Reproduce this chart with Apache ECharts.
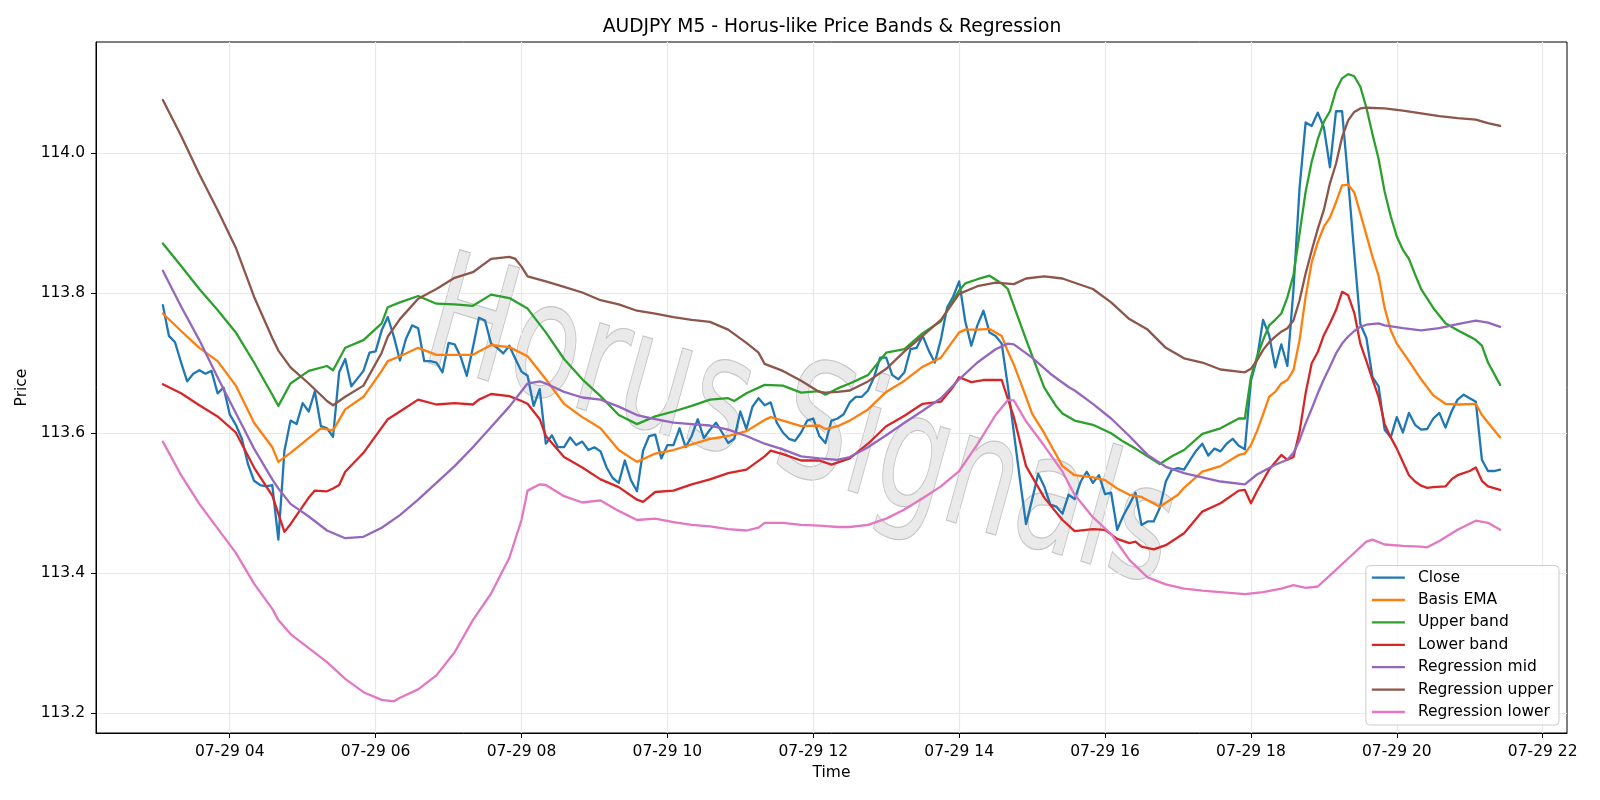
<!DOCTYPE html>
<html>
<head>
<meta charset="utf-8">
<title>AUDJPY M5 - Horus-like Price Bands & Regression</title>
<script src="https://cdn.jsdelivr.net/npm/echarts@6/dist/echarts.min.js"></script>
<style>
  html, body { margin: 0; padding: 0; background: #fff; }
  #chart { width: 1600px; height: 800px; }
</style>
</head>
<body>
<div id="chart"></div>
<script>
// M5 closes from 07-29 03:05 to 21:25, one row per hour
const closeStart = '03:05';
const close = [
  113.783, 113.739, 113.730, 113.701, 113.674, 113.685, 113.690, 113.685, 113.689, 113.657, 113.665, 113.627,
  113.612, 113.592, 113.556, 113.532, 113.526, 113.524, 113.526, 113.448, 113.575, 113.618, 113.613, 113.643,
  113.631, 113.660, 113.610, 113.607, 113.595, 113.687, 113.706, 113.667, 113.678, 113.689, 113.715, 113.717,
  113.747, 113.766, 113.738, 113.704, 113.735, 113.754, 113.750, 113.703, 113.703, 113.701, 113.687, 113.729,
  113.727, 113.709, 113.682, 113.722, 113.765, 113.761, 113.728, 113.722, 113.714, 113.725, 113.706, 113.688,
  113.682, 113.639, 113.663, 113.585, 113.597, 113.580, 113.580, 113.594, 113.583, 113.588, 113.576, 113.580,
  113.574, 113.551, 113.536, 113.529, 113.561, 113.533, 113.517, 113.575, 113.596, 113.598, 113.564, 113.583,
  113.583, 113.607, 113.580, 113.596, 113.620, 113.593, 113.605, 113.615, 113.601, 113.586, 113.592, 113.631,
  113.606, 113.638, 113.650, 113.640, 113.644, 113.615, 113.601, 113.592, 113.589, 113.601, 113.618, 113.621,
  113.596, 113.586, 113.618, 113.621, 113.627, 113.644, 113.652, 113.652, 113.661, 113.680, 113.708, 113.708,
  113.683, 113.677, 113.687, 113.720, 113.722, 113.739, 113.718, 113.701, 113.734, 113.779, 113.795, 113.817,
  113.760, 113.725, 113.754, 113.775, 113.744, 113.739, 113.728, 113.668, 113.601, 113.534, 113.470, 113.505,
  113.542, 113.524, 113.498, 113.495, 113.485, 113.512, 113.506, 113.531, 113.545, 113.529, 113.540, 113.513,
  113.515, 113.462, 113.482, 113.498, 113.515, 113.469, 113.474, 113.474, 113.493, 113.531, 113.548, 113.550,
  113.548, 113.562, 113.575, 113.585, 113.568, 113.578, 113.574, 113.585, 113.592, 113.582, 113.577, 113.675,
  113.706, 113.762, 113.740, 113.694, 113.727, 113.696, 113.805, 113.950, 114.044, 114.039, 114.058, 114.037,
  113.980, 114.060, 114.060, 113.961, 113.857, 113.756, 113.736, 113.680, 113.667, 113.605, 113.594, 113.623,
  113.601, 113.629, 113.612, 113.605, 113.606, 113.621, 113.629, 113.608, 113.631, 113.648, 113.655, 113.650,
  113.645, 113.562, 113.546, 113.546, 113.548
];

// smooth lines at ~15 min steps (plus turning points): [time, price]
const basisEma = [
  ['03:05', 113.771], ['03:20', 113.746], ['03:35', 113.722], ['03:50', 113.703], ['04:05', 113.668], ['04:20', 113.615],
  ['04:35', 113.580], ['04:40', 113.559], ['04:50', 113.572], ['05:05', 113.593], ['05:15', 113.607], ['05:25', 113.604],
  ['05:35', 113.634], ['05:50', 113.652], ['06:05', 113.689], ['06:10', 113.703], ['06:20', 113.710], ['06:35', 113.722],
  ['06:50', 113.712], ['07:05', 113.712], ['07:20', 113.712], ['07:35', 113.726], ['07:50', 113.723], ['08:05', 113.710],
  ['08:20', 113.677], ['08:35', 113.642], ['08:50', 113.623], ['09:05', 113.607], ['09:20', 113.576], ['09:35', 113.559],
  ['09:50', 113.571], ['10:05', 113.576], ['10:20', 113.584], ['10:35', 113.592], ['10:50', 113.596], ['11:05', 113.603],
  ['11:20', 113.619], ['11:25', 113.623], ['11:35', 113.618], ['11:50', 113.610], ['12:05', 113.611], ['12:10', 113.606],
  ['12:20', 113.610], ['12:30', 113.618], ['12:45', 113.634], ['13:00', 113.659], ['13:15', 113.675], ['13:30', 113.695],
  ['13:45', 113.708], ['14:00', 113.744], ['14:05', 113.748], ['14:15', 113.748], ['14:25', 113.749], ['14:35', 113.739],
  ['14:40', 113.717], ['14:45', 113.698], ['14:55', 113.652], ['15:00', 113.628], ['15:10', 113.600], ['15:25', 113.553],
  ['15:35', 113.540], ['15:50', 113.537], ['16:00', 113.533], ['16:10', 113.521], ['16:20', 113.512], ['16:30', 113.509],
  ['16:45', 113.495], ['17:00', 113.512], ['17:05', 113.522], ['17:20', 113.545], ['17:35', 113.553], ['17:50', 113.569],
  ['17:55', 113.571], ['18:00', 113.583], ['18:05', 113.603], ['18:10', 113.627], ['18:15', 113.652], ['18:20', 113.659],
  ['18:25', 113.671], ['18:30', 113.676], ['18:35', 113.690], ['18:40', 113.733], ['18:45', 113.795], ['18:50', 113.844],
  ['18:55', 113.873], ['19:00', 113.895], ['19:05', 113.908], ['19:10', 113.930], ['19:15', 113.954], ['19:20', 113.955],
  ['19:25', 113.944], ['19:30', 113.914], ['19:35', 113.883], ['19:40', 113.852], ['19:45', 113.825], ['19:50', 113.779],
  ['19:55', 113.747], ['20:00', 113.728], ['20:10', 113.703], ['20:20', 113.677], ['20:30', 113.654], ['20:40', 113.642],
  ['20:50', 113.641], ['21:05', 113.642], ['21:10', 113.626], ['21:25', 113.594]
];

const upperBand = [
  ['03:05', 113.871], ['03:20', 113.839], ['03:35', 113.806], ['03:50', 113.776], ['04:05', 113.744], ['04:20', 113.701],
  ['04:35', 113.655], ['04:40', 113.639], ['04:50', 113.671], ['05:05', 113.689], ['05:20', 113.696], ['05:25', 113.690],
  ['05:35', 113.722], ['05:50', 113.733], ['06:05', 113.757], ['06:10', 113.780], ['06:20', 113.787], ['06:35', 113.796],
  ['06:50', 113.785], ['07:05', 113.784], ['07:20', 113.782], ['07:35', 113.798], ['07:50', 113.793], ['08:05', 113.778],
  ['08:20', 113.744], ['08:35', 113.706], ['08:50', 113.677], ['09:05', 113.653], ['09:20', 113.626], ['09:35', 113.613],
  ['09:50', 113.624], ['10:05', 113.631], ['10:20', 113.639], ['10:35', 113.648], ['10:50', 113.650], ['10:55', 113.646],
  ['11:05', 113.657], ['11:20', 113.669], ['11:35', 113.668], ['11:50', 113.658], ['12:05', 113.660], ['12:10', 113.655],
  ['12:20', 113.664], ['12:30', 113.671], ['12:45', 113.683], ['13:00', 113.715], ['13:15', 113.720], ['13:30', 113.743],
  ['13:45', 113.760], ['14:00', 113.804], ['14:05', 113.814], ['14:15', 113.820], ['14:25', 113.825], ['14:35', 113.814],
  ['14:40', 113.806], ['14:45', 113.782], ['14:55', 113.734], ['15:10', 113.665], ['15:20', 113.638], ['15:25', 113.628],
  ['15:35', 113.618], ['15:50', 113.612], ['16:05', 113.600], ['16:15', 113.588], ['16:25', 113.578], ['16:35', 113.567],
  ['16:45', 113.556], ['16:55', 113.567], ['17:05', 113.576], ['17:20', 113.599], ['17:35', 113.607], ['17:50', 113.621],
  ['17:55', 113.621], ['18:00', 113.680], ['18:05', 113.709], ['18:10', 113.733], ['18:15', 113.754], ['18:20', 113.762],
  ['18:25', 113.771], ['18:30', 113.794], ['18:35', 113.826], ['18:40', 113.885], ['18:45', 113.945], ['18:50', 113.988],
  ['18:55', 114.020], ['19:00', 114.045], ['19:05', 114.060], ['19:10', 114.090], ['19:15', 114.107], ['19:20', 114.113],
  ['19:25', 114.110], ['19:30', 114.095], ['19:35', 114.065], ['19:40', 114.027], ['19:45', 113.992], ['19:50', 113.945],
  ['19:55', 113.910], ['20:00', 113.881], ['20:05', 113.862], ['20:10', 113.849], ['20:15', 113.827], ['20:20', 113.806],
  ['20:30', 113.779], ['20:40', 113.757], ['20:50', 113.747], ['21:00', 113.738], ['21:05', 113.733], ['21:10', 113.725],
  ['21:15', 113.701], ['21:25', 113.669]
];

const lowerBand = [
  ['03:05', 113.670], ['03:20', 113.657], ['03:35', 113.640], ['03:50', 113.624], ['04:05', 113.601], ['04:20', 113.551],
  ['04:35', 113.511], ['04:45', 113.459], ['04:50', 113.470], ['05:05', 113.508], ['05:10', 113.518], ['05:20', 113.517],
  ['05:25', 113.521], ['05:30', 113.526], ['05:35', 113.545], ['05:50', 113.572], ['06:05', 113.608], ['06:10', 113.620],
  ['06:20', 113.631], ['06:35', 113.648], ['06:50', 113.641], ['07:05', 113.643], ['07:20', 113.641], ['07:25', 113.648],
  ['07:35', 113.656], ['07:50', 113.653], ['08:00', 113.646], ['08:05', 113.642], ['08:15', 113.620], ['08:20', 113.596],
  ['08:35', 113.566], ['08:50', 113.551], ['09:05', 113.534], ['09:20', 113.523], ['09:35', 113.505], ['09:40', 113.502],
  ['09:50', 113.516], ['10:05', 113.518], ['10:20', 113.527], ['10:35', 113.534], ['10:50', 113.543], ['11:05', 113.548],
  ['11:20', 113.567], ['11:25', 113.575], ['11:35', 113.570], ['11:50', 113.561], ['12:05', 113.561], ['12:15', 113.555],
  ['12:30', 113.564], ['12:45', 113.585], ['13:00', 113.610], ['13:15', 113.625], ['13:30', 113.642], ['13:45', 113.645],
  ['13:55', 113.666], ['14:00', 113.680], ['14:10', 113.673], ['14:20', 113.676], ['14:35', 113.676], ['14:45', 113.623],
  ['14:55', 113.553], ['15:10', 113.508], ['15:25', 113.476], ['15:35', 113.460], ['15:50', 113.463], ['16:00', 113.462],
  ['16:10', 113.449], ['16:20', 113.443], ['16:25', 113.445], ['16:30', 113.438], ['16:40', 113.434], ['16:50', 113.440],
  ['17:05', 113.457], ['17:20', 113.488], ['17:35', 113.500], ['17:50', 113.518], ['17:55', 113.519], ['18:00', 113.500],
  ['18:05', 113.517], ['18:15', 113.548], ['18:25', 113.569], ['18:30', 113.562], ['18:35', 113.566], ['18:40', 113.602],
  ['18:45', 113.657], ['18:50', 113.700], ['18:55', 113.716], ['19:00', 113.740], ['19:05', 113.757], ['19:10', 113.776],
  ['19:15', 113.802], ['19:20', 113.797], ['19:25', 113.772], ['19:30', 113.728], ['19:35', 113.703], ['19:40', 113.677],
  ['19:45', 113.652], ['19:50', 113.613], ['19:55', 113.594], ['20:00', 113.578], ['20:05', 113.559], ['20:10', 113.540],
  ['20:15', 113.531], ['20:20', 113.525], ['20:25', 113.522], ['20:30', 113.523], ['20:40', 113.524], ['20:45', 113.534],
  ['20:50', 113.540], ['21:00', 113.546], ['21:05', 113.551], ['21:10', 113.532], ['21:15', 113.524], ['21:25', 113.519]
];

const regMid = [
  ['03:05', 113.832], ['03:20', 113.781], ['03:35', 113.733], ['03:50', 113.680], ['04:05', 113.629], ['04:20', 113.578],
  ['04:35', 113.534], ['04:40', 113.521], ['04:50', 113.499], ['05:05', 113.481], ['05:20', 113.461], ['05:35', 113.450],
  ['05:50', 113.452], ['06:05', 113.465], ['06:20', 113.483], ['06:35', 113.505], ['06:50', 113.529], ['07:05', 113.553],
  ['07:20', 113.580], ['07:35', 113.609], ['07:50', 113.638], ['08:05', 113.671], ['08:15', 113.674], ['08:20', 113.671],
  ['08:35', 113.659], ['08:50', 113.651], ['09:05', 113.648], ['09:20', 113.638], ['09:35', 113.626], ['09:50', 113.620],
  ['10:05', 113.615], ['10:20', 113.613], ['10:35', 113.611], ['10:50', 113.605], ['11:05', 113.596], ['11:20', 113.585],
  ['11:35', 113.577], ['11:50', 113.567], ['12:05', 113.564], ['12:20', 113.562], ['12:30', 113.566], ['12:45', 113.580],
  ['13:00', 113.597], ['13:15', 113.615], ['13:30', 113.632], ['13:45', 113.650], ['14:00', 113.677], ['14:15', 113.701],
  ['14:30', 113.720], ['14:40', 113.728], ['14:45', 113.727], ['15:00', 113.708], ['15:15', 113.685], ['15:30', 113.666],
  ['15:35', 113.661], ['15:50', 113.642], ['16:05', 113.621], ['16:20', 113.596], ['16:35', 113.569], ['16:50', 113.552],
  ['17:05', 113.543], ['17:20', 113.537], ['17:35', 113.531], ['17:55', 113.527], ['18:05', 113.541], ['18:20', 113.555],
  ['18:30', 113.562], ['18:35', 113.572], ['18:40', 113.590], ['18:45', 113.614], ['18:50', 113.635], ['18:55', 113.657],
  ['19:00', 113.677], ['19:05', 113.695], ['19:10', 113.714], ['19:15', 113.728], ['19:20', 113.738], ['19:25', 113.746],
  ['19:30', 113.752], ['19:35', 113.755], ['19:45', 113.757], ['19:50', 113.754], ['20:05', 113.750], ['20:20', 113.747],
  ['20:35', 113.750], ['20:50', 113.756], ['21:05', 113.761], ['21:15', 113.758], ['21:25', 113.752]
];

const regUpper = [
  ['03:05', 114.076], ['03:20', 114.025], ['03:35', 113.970], ['03:50', 113.919], ['04:05', 113.865], ['04:20', 113.795],
  ['04:35', 113.736], ['04:40', 113.718], ['04:50', 113.694], ['05:05', 113.671], ['05:20', 113.646], ['05:25', 113.640],
  ['05:35', 113.652], ['05:50', 113.668], ['06:05', 113.715], ['06:10', 113.738], ['06:20', 113.763], ['06:35', 113.792],
  ['06:50', 113.806], ['07:05', 113.822], ['07:20', 113.830], ['07:35', 113.849], ['07:50', 113.852], ['07:55', 113.849],
  ['08:00', 113.838], ['08:05', 113.824], ['08:20', 113.817], ['08:35', 113.809], ['08:50', 113.801], ['09:05', 113.790],
  ['09:20', 113.784], ['09:35', 113.775], ['09:50', 113.771], ['10:05', 113.766], ['10:20', 113.762], ['10:35', 113.759],
  ['10:50', 113.748], ['11:05', 113.729], ['11:15', 113.715], ['11:20', 113.699], ['11:35', 113.689], ['11:50', 113.675],
  ['12:05', 113.659], ['12:10', 113.658], ['12:20', 113.659], ['12:30', 113.661], ['12:45', 113.674], ['13:00', 113.692],
  ['13:15', 113.717], ['13:30', 113.739], ['13:45', 113.762], ['14:00', 113.799], ['14:15', 113.810], ['14:30', 113.815],
  ['14:45', 113.813], ['14:55', 113.821], ['15:10', 113.824], ['15:25', 113.821], ['15:35', 113.815], ['15:50', 113.806],
  ['16:05', 113.787], ['16:20', 113.763], ['16:35', 113.748], ['16:50', 113.722], ['17:05', 113.707], ['17:20', 113.701],
  ['17:35', 113.691], ['17:50', 113.688], ['17:55', 113.687], ['18:00', 113.692], ['18:05', 113.704], ['18:10', 113.719],
  ['18:15', 113.730], ['18:20', 113.738], ['18:25', 113.745], ['18:30', 113.750], ['18:35', 113.761], ['18:40', 113.790],
  ['18:45', 113.828], ['18:50', 113.861], ['18:55', 113.892], ['19:00', 113.919], ['19:05', 113.957], ['19:10', 113.985],
  ['19:15', 114.023], ['19:20', 114.047], ['19:25', 114.059], ['19:30', 114.064], ['19:35', 114.065], ['19:50', 114.064],
  ['20:05', 114.061], ['20:20', 114.057], ['20:35', 114.053], ['20:50', 114.050], ['21:05', 114.048], ['21:15', 114.043],
  ['21:25', 114.039]
];

const regLower = [
  ['03:05', 113.588], ['03:20', 113.540], ['03:35', 113.499], ['03:50', 113.464], ['04:05', 113.429], ['04:20', 113.385],
  ['04:35', 113.349], ['04:40', 113.333], ['04:50', 113.313], ['05:05', 113.293], ['05:20', 113.273], ['05:35', 113.249],
  ['05:50', 113.230], ['06:05', 113.219], ['06:15', 113.217], ['06:20', 113.222], ['06:35', 113.234], ['06:50', 113.254],
  ['07:05', 113.287], ['07:20', 113.333], ['07:35', 113.371], ['07:50', 113.422], ['08:00', 113.476], ['08:05', 113.518],
  ['08:15', 113.527], ['08:20', 113.526], ['08:35', 113.510], ['08:50', 113.501], ['09:05', 113.504], ['09:20', 113.489],
  ['09:35', 113.476], ['09:50', 113.478], ['10:05', 113.473], ['10:20', 113.469], ['10:35', 113.467], ['10:50', 113.463],
  ['11:05', 113.461], ['11:15', 113.465], ['11:20', 113.472], ['11:35', 113.472], ['11:50', 113.469], ['12:05', 113.468],
  ['12:20', 113.466], ['12:30', 113.466], ['12:45', 113.469], ['13:00', 113.478], ['13:15', 113.491], ['13:30', 113.507],
  ['13:45', 113.524], ['14:00', 113.546], ['14:15', 113.584], ['14:30', 113.626], ['14:40', 113.647], ['14:45', 113.647],
  ['14:55', 113.617], ['15:10', 113.582], ['15:25', 113.545], ['15:35', 113.512], ['15:50', 113.480], ['16:05', 113.456],
  ['16:20', 113.419], ['16:35', 113.394], ['16:50', 113.384], ['17:05', 113.378], ['17:20', 113.375], ['17:35', 113.373],
  ['17:55', 113.370], ['18:10', 113.373], ['18:25', 113.378], ['18:35', 113.383], ['18:45', 113.379], ['18:55', 113.381],
  ['19:05', 113.397], ['19:20', 113.421], ['19:35', 113.445], ['19:40', 113.448], ['19:50', 113.441], ['20:05', 113.439],
  ['20:20', 113.438], ['20:25', 113.437], ['20:35', 113.446], ['20:50', 113.462], ['21:05', 113.475], ['21:15', 113.472],
  ['21:25', 113.462]
];

const seriesNames = ['Close', 'Basis EMA', 'Upper band', 'Lower band', 'Regression mid', 'Regression upper', 'Regression lower'];
const seriesColors = ['#1f77b4', '#ff7f0e', '#2ca02c', '#d62728', '#9467bd', '#8c564b', '#e377c2'];
const xTicks = [4, 6, 8, 10, 12, 14, 16, 18, 20, 22];
const yTicks = [113.2, 113.4, 113.6, 113.8, 114.0];
const day = '07-29';

const FONT = 'DejaVu Sans';

function toH(t) {
  const p = t.split(':').map(Number);
  return p[0] + p[1] / 60;
}
const closeData = close.map((v, i) => [toH(closeStart) + i * 5 / 60, v]);
const toPairs = arr => arr.map(d => [toH(d[0]), d[1]]);
const lineData = [closeData, toPairs(basisEma), toPairs(upperBand), toPairs(lowerBand),
  toPairs(regMid), toPairs(regUpper), toPairs(regLower)];

const chart = echarts.init(document.getElementById('chart'));
chart.setOption({
  animation: false,
  backgroundColor: '#ffffff',
  textStyle: { fontFamily: FONT },
  title: {
    text: 'AUDJPY M5 - Horus-like Price Bands & Regression',
    left: 827, top: 13, textAlign: 'center',
    textStyle: { fontFamily: FONT, fontSize: 18.7, fontWeight: 'normal', color: '#000' }
  },
  grid: { left: 96, right: 33, top: 42, bottom: 67, show: true, borderColor: '#000', borderWidth: 1 },
  legend: {
    orient: 'vertical', right: 41, bottom: 75,
    itemWidth: 33, itemHeight: 16, itemGap: 6.4,
    padding: [4, 6, 5, 6],
    icon: 'path://M0,0H33V2.3H0Z',
    backgroundColor: 'rgba(255,255,255,0.8)', borderColor: '#cccccc', borderWidth: 1, borderRadius: 4,
    textStyle: { fontFamily: FONT, fontSize: 15.5, color: '#000', padding: [0, 0, 0, 8] },
    data: seriesNames
  },
  xAxis: {
    type: 'value', min: 2 + 10 / 60, max: 22 + 20 / 60,
    name: 'Time', nameLocation: 'middle', nameGap: 32,
    nameTextStyle: { fontFamily: FONT, fontSize: 15.5, color: '#000' },
    axisLine: { lineStyle: { color: '#000', width: 1 } },
    axisTick: { customValues: xTicks, length: 5, lineStyle: { color: '#000' } },
    axisLabel: {
      customValues: xTicks, margin: 11, fontFamily: FONT, fontSize: 15.5, color: '#000',
      formatter: v => day + ' ' + String(v).padStart(2, '0')
    },
    splitLine: { show: true, lineStyle: { color: '#e8e8e8', width: 1.2 } }
  },
  yAxis: {
    type: 'value', min: 113.1717, max: 114.1589,
    name: 'Price', nameLocation: 'middle', nameGap: 53,
    nameTextStyle: { fontFamily: FONT, fontSize: 15.5, color: '#000' },
    axisLine: { show: true, lineStyle: { color: '#000', width: 1 } },
    axisTick: { show: true, customValues: yTicks, length: 5, lineStyle: { color: '#000' } },
    axisLabel: {
      customValues: yTicks, margin: 11, fontFamily: FONT, fontSize: 15.5, color: '#000',
      formatter: v => v.toFixed(1)
    },
    splitLine: { show: true, lineStyle: { color: '#e8e8e8', width: 1.2 } }
  },
  // faint "Horus Signals" watermark across the plot
  graphic: [{
    type: 'group', x: 800, y: 432, scaleY: 1.5, silent: true, z: 0,
    children: [{
      type: 'text', rotation: -0.2,
      style: {
        text: 'Horus Signals', font: 'italic 110px "DejaVu Sans"',
        align: 'center', verticalAlign: 'middle',
        fill: 'rgba(205,205,205,0.42)', stroke: 'rgba(145,145,145,0.55)', lineWidth: 0.8
      }
    }]
  }],
  series: seriesNames.map((name, i) => ({
    name: name,
    type: 'line',
    data: lineData[i],
    symbol: 'none',
    showSymbol: false,
    color: seriesColors[i],
    lineStyle: { width: 2.3, color: seriesColors[i], join: 'round', cap: 'round' },
    z: 3
  }))
});
</script>
</body>
</html>
